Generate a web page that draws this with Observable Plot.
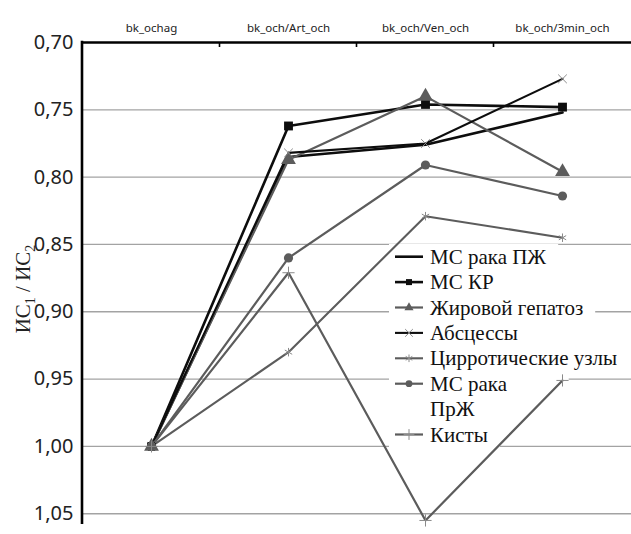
<!DOCTYPE html>
<html><head><meta charset="utf-8">
<script src="https://cdn.jsdelivr.net/npm/d3@7"></script>
<script src="https://cdn.jsdelivr.net/npm/@observablehq/plot@0.6"></script>
<style>body{margin:0;background:#fff;} #chart svg{display:block;}
.serif-t{font-family:'Times New Roman','Liberation Serif',serif !important;}
.sans-t{font-family:'DejaVu Sans',sans-serif !important;}
</style>
</head><body><div id="chart"></div>
<script>
// ---- data ----
const categories = ["bk_ochag", "bk_och/Art_och", "bk_och/Ven_och", "bk_och/3min_och"];
const seriesNames = ["МС рака ПЖ", "МС КР", "Жировой гепатоз", "Абсцессы", "Цирротические узлы", "МС рака ПрЖ", "Кисты"];
const valsMsPZh   = [1.00, 0.785, 0.776, 0.752];
const valsMsKR    = [1.00, 0.762, 0.746, 0.748];
const valsGepatoz = [1.00, 0.787, 0.740, 0.796];
const valsAbsc    = [1.00, 0.782, 0.775, 0.727];
const valsCirr    = [1.00, 0.930, 0.829, 0.845];
const valsMsPrZh  = [1.00, 0.860, 0.791, 0.814];
const valsKisty   = [1.00, 0.871, 1.055, 0.951];
const seriesValues = [valsMsPZh, valsMsKR, valsGepatoz, valsAbsc, valsCirr, valsMsPrZh, valsKisty];
const yTicks = [0.70, 0.75, 0.80, 0.85, 0.90, 0.95, 1.00, 1.05];
const yLabelParts = ["ИС", "1", " / ИС", "2"];

(function () {
// ---- styles ----
const BLACK = "#0d0d0d", GRAY = "#5c5c5c";
const styleList = [
  {color: BLACK, width: 2.6, symbol: null},
  {color: BLACK, width: 2.6, symbol: "square", r: 5, filled: true},
  {color: GRAY,  width: 2.2, symbol: "triangle", r: 5.5, filled: true},
  {color: BLACK, width: 2.1, symbol: "times", r: 4, filled: false},
  {color: GRAY,  width: 2.1, symbol: "asterisk", r: 4, filled: false},
  {color: GRAY,  width: 2.2, symbol: "circle", r: 4.6, filled: true},
  {color: GRAY,  width: 2.2, symbol: "plus", r: 4, filled: false}
];

const rows = seriesNames.flatMap((s, i) => categories.map((c, j) => ({series: s, cat: c, v: seriesValues[i][j]})));

const lineMarks = [];
const dotMarks = [];
seriesNames.forEach((s, i) => {
  const st = styleList[i];
  const d = rows.filter(r => r.series === s);
  lineMarks.push(Plot.line(d, {x: "cat", y: "v", stroke: st.color, strokeWidth: st.width, strokeLinejoin: "miter"}));
  if (st.symbol) {
    dotMarks.push(Plot.dot(d, st.filled
      ? {x: "cat", y: "v", symbol: () => st.symbol, r: st.r, fill: st.color, stroke: "none"}
      : {x: "cat", y: "v", symbol: () => st.symbol, r: st.r, fill: "none", stroke: "#8a8a8a", strokeWidth: 1}));
  }
});

const fmt = d => d.toFixed(2).replace(".", ",");

const chart = Plot.plot({
  width: 631, height: 534,
  marginTop: 42, marginBottom: 10, marginLeft: 82, marginRight: 0,
  style: {background: "#fff", overflow: "visible"},
  x: {type: "point", domain: categories, padding: 0.5},
  y: {domain: [0.70, 1.058], reverse: true},
  symbol: {type: "identity"},
  marks: [
    Plot.ruleY(yTicks.slice(1), {stroke: "#a3a3a3", strokeWidth: 1.3}),
    ...lineMarks,
    ...dotMarks,
    Plot.ruleY(yTicks.slice(0, 1), {stroke: "#000", strokeWidth: 2.6}),
    Plot.axisX({anchor: "top", tickSize: 0, tickPadding: 11, label: null, fontSize: 11.5, fill: "#222", ariaLabel: "x-axis tick label"}),
    Plot.axisY({ticks: yTicks, tickFormat: fmt, tickSize: 0, tickPadding: 9, label: null, fontSize: 20, fill: "#222", ariaLabel: "y-axis tick label"})
  ]
});
document.getElementById("chart").appendChild(chart);

// ---- decorations ----
const svg = d3.select(chart);
svg.selectAll('g[aria-label="x-axis tick label"] text').classed("sans-t", true);
svg.selectAll('g[aria-label="y-axis tick label"] text').classed("serif-t", true);
const xs = chart.scale("x"), ys = chart.scale("y");
const axLeft = 82, axTop = ys.apply(0.70), axBottom = 534 - 10;
svg.append("line").attr("x1", axLeft).attr("x2", axLeft).attr("y1", axTop - 1.3).attr("y2", axBottom)
  .attr("stroke", "#000").attr("stroke-width", 2.6);
for (let i = 0; i < categories.length - 1; i++) {
  const bx = (xs.apply(categories[i]) + xs.apply(categories[i + 1])) / 2;
  svg.append("line").attr("x1", bx).attr("x2", bx).attr("y1", axTop).attr("y2", axTop + 5)
    .attr("stroke", "#000").attr("stroke-width", 1.6);
}
const yl = svg.append("text").attr("transform", `translate(30,${(axTop + axBottom) / 2 + 6}) rotate(-90)`)
  .attr("class", "serif-t").attr("text-anchor", "middle").attr("font-size", 21).attr("fill", "#222");
yl.append("tspan").text(yLabelParts[0]);
yl.append("tspan").attr("font-size", 14).attr("dy", 5).text(yLabelParts[1]);
yl.append("tspan").attr("dy", -5).text(yLabelParts[2]);
yl.append("tspan").attr("font-size", 14).attr("dy", 5).text(yLabelParts[3]);

// legend
const firstLine = chart.querySelector('g[aria-label="line"]');
const bgNode = document.createElementNS("http://www.w3.org/2000/svg", "g");
firstLine.parentNode.insertBefore(bgNode, firstLine);
const bgG = d3.select(bgNode);
const lg = svg.append("g").attr("text-anchor", "start");
const row0 = 256.7, rowH = 25.4, symX0 = 395, symX1 = 423, textX = 430;
const symMap = {square: d3.symbolSquare, triangle: d3.symbolTriangle, times: d3.symbolTimes,
                asterisk: d3.symbolAsterisk, circle: d3.symbolCircle, plus: d3.symbolPlus};
let rowIdx = 0;
seriesNames.forEach((s, i) => {
  const st = styleList[i];
  const cy = row0 + rowIdx * rowH;
  const wrap = s === "МС рака ПрЖ";
  const t = lg.append("text").attr("x", textX).attr("y", cy + 7).attr("text-anchor", "start")
    .attr("class", "serif-t").attr("font-size", 21).attr("fill", "#111").text(s);
  const fullW = t.node().getComputedTextLength();
  if (wrap) {
    t.text(null);
    t.append("tspan").attr("x", textX).text("МС рака");
    t.append("tspan").attr("x", textX).attr("dy", rowH).text("ПрЖ");
  }
  const nRows = wrap ? 2 : 1;
  bgG.append("rect").attr("x", 389).attr("y", cy - rowH / 2).attr("width", textX + fullW + 12 - 389)
    .attr("height", rowH * nRows).attr("fill", "#fff");
  lg.append("line").attr("x1", symX0).attr("x2", symX1).attr("y1", cy).attr("y2", cy)
    .attr("stroke", st.color).attr("stroke-width", st.width);
  if (st.symbol) {
    const p = lg.append("path").attr("transform", `translate(${(symX0 + symX1) / 2},${cy})`);
    if (st.filled) p.attr("d", d3.symbol(symMap[st.symbol], 36)()).attr("fill", st.color);
    else p.attr("d", d3.symbol(symMap[st.symbol], 40)()).attr("fill", "none").attr("stroke", "#8a8a8a").attr("stroke-width", 1);
  }
  rowIdx += nRows;
});
})();
</script>
</body></html>
